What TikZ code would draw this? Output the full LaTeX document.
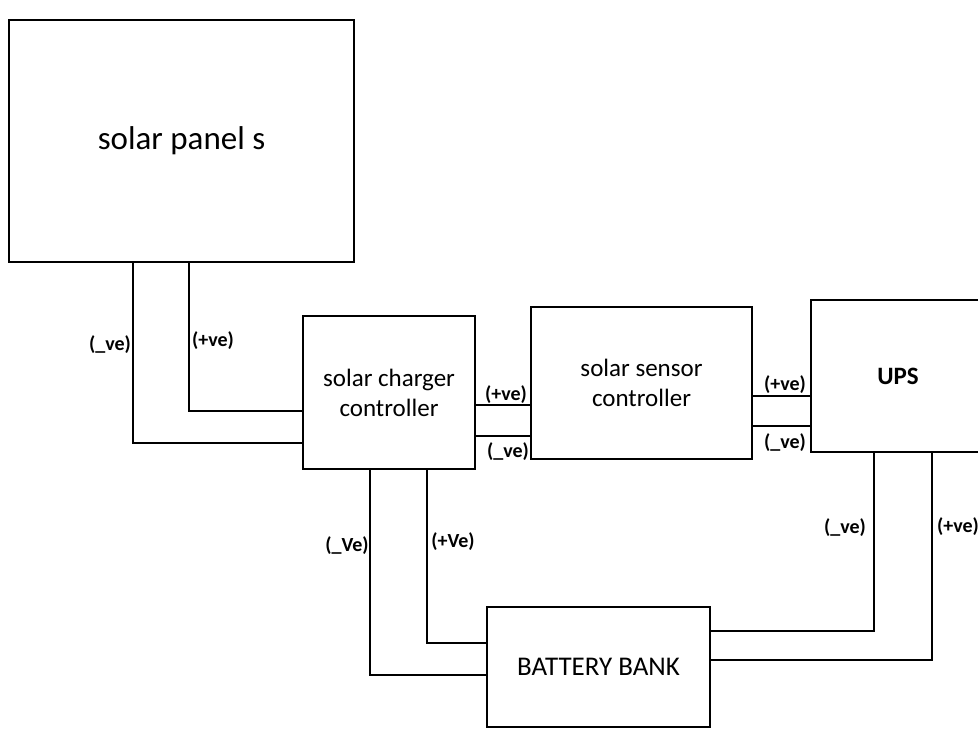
\documentclass[tikz,border=0pt]{standalone}
\usepackage{fontspec}
\setmainfont{Carlito}
\usepackage{tikz}
\usetikzlibrary{positioning, calc}

\begin{document}
\begin{tikzpicture}[
    x=0.5pt, y=-0.5pt,
    block/.style={rectangle, draw, line width=1pt, inner sep=0pt, align=center, font=\fontsize{12.5}{15}\selectfont},
    wire/.style={line width=0.9pt},
    lbl/.style={font=\fontsize{10}{11}\selectfont\bfseries, inner sep=1pt},
]
\useasboundingbox (0,0) rectangle (978,729);
\node[block, minimum width=172.5pt, minimum height=121pt, font=\fontsize{16.5}{18}\selectfont] (panel) at (181.5,141) {solar panel s};
\node[block, minimum width=86pt, minimum height=76.5pt] (charger) at (389,392.5) {solar charger\\controller};
\node[block, minimum width=110.5pt, minimum height=76pt] (sensor) at (641.5,383) {solar sensor\\controller};
\node[block, minimum width=87pt, minimum height=76pt, font=\fontsize{12.5}{14}\selectfont\bfseries] (ups) at (898,376) {UPS};
\node[block, minimum width=111.5pt, minimum height=60pt, font=\fontsize{13.5}{15}\selectfont] (battery) at (598.5,667) {BATTERY BANK};
% panel to charger
\draw[wire] (panel.south -| 133,0) |- (charger.west |- 0,443);
\draw[wire] (panel.south -| 189,0) |- (charger.west |- 0,411);
\node[lbl] (p1) at (110,345) {(\_ve)};
\node[lbl] (p2) at (213,341) {(+ve)};
% charger to sensor
\draw[wire] (charger.east |- 0,405) -- (sensor.west |- 0,405);
\draw[wire] (charger.east |- 0,436) -- (sensor.west |- 0,436);
\node[lbl] (c1) at (506,395) {(+ve)};
\node[lbl] (c2) at (508,452) {(\_ve)};
% sensor to ups
\draw[wire] (sensor.east |- 0,396) -- (ups.west |- 0,396);
\draw[wire] (sensor.east |- 0,426) -- (ups.west |- 0,426);
\node[lbl] (s1) at (785,385) {(+ve)};
\node[lbl] (s2) at (785,443) {(\_ve)};
% charger to battery
\draw[wire] (charger.south -| 370,0) |- (battery.west |- 0,675);
\draw[wire] (charger.south -| 427,0) |- (battery.west |- 0,643);
\node[lbl] (b1) at (347,546) {(\_Ve)};
\node[lbl] (b2) at (453,542) {(+Ve)};
% ups to battery
\draw[wire] (ups.south -| 874,0) |- (battery.east |- 0,631);
\draw[wire] (ups.south -| 932,0) |- (battery.east |- 0,660);
\node[lbl] (u1) at (845,528) {(\_ve)};
\node[lbl] (u2) at (958,527) {(+ve)};
\end{tikzpicture}
\end{document}
